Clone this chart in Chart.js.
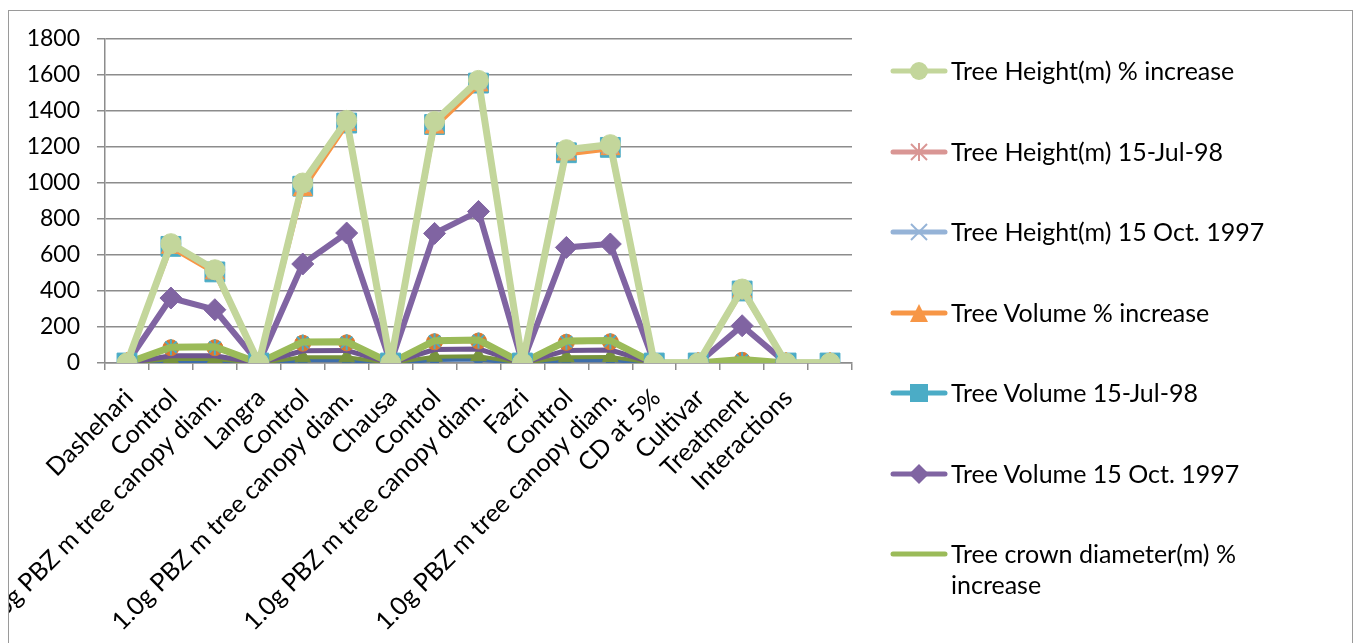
<!DOCTYPE html>
<html>
<head>
<meta charset="utf-8">
<script src="https://cdn.jsdelivr.net/npm/chart.js@4/dist/chart.umd.min.js"></script>
<style>
  html, body { margin: 0; padding: 0; background: #fff; }
  #wrap { position: relative; width: 1356px; height: 643px; overflow: hidden; background: #fff; }
  #chart { position: absolute; left: 0; top: 0; }
  #edge { position: absolute; left: 0; top: 0; width: 8px; height: 643px; background: #fff; }
  #frame { position: absolute; left: 8px; top: 10px; width: 1345px; height: 700px; border: 1px solid #9a9a9a; box-sizing: border-box; pointer-events: none; }
  .item { position: absolute; left: 889px; width: 60px; height: 24px; }
  .item svg { position: absolute; left: 0; top: 0; }
  .item .txt { position: absolute; left: 62px; top: -4px; font-family: Lato, sans-serif; font-size: 25px; line-height: 31px; color: #000; white-space: nowrap; }
</style>
</head>
<body>
<div id="wrap">
  <canvas id="chart" width="1356" height="643"></canvas>
  <div id="edge"></div>
  <div id="frame"></div>
  <div id="legend"></div>
</div>
<script>
// Categories along the x axis (last slot has no label)
const categories = [
  'Dashehari', 'Control', '1.0g PBZ m tree canopy diam.',
  'Langra', 'Control', '1.0g PBZ m tree canopy diam.',
  'Chausa', 'Control', '1.0g PBZ m tree canopy diam.',
  'Fazri', 'Control', '1.0g PBZ m tree canopy diam.',
  'CD at 5%', 'Cultivar', 'Treatment', 'Interactions', ''
];

// Value axis tick labels
const yTickValues = [0, 200, 400, 600, 800, 1000, 1200, 1400, 1600, 1800];

// Series values, one entry per category
const heightPctIncrease = [0, 663, 518, 0, 1000, 1348, 0, 1342, 1570, 0, 1185, 1213, 0, 0, 411, 0, 0];
const height15Jul98     = [0, 660, 515, 0, 996, 1344, 0, 1338, 1566, 0, 1181, 1209, 0, 0, 408, 0, 0];
const height15Oct97     = [0, 656, 511, 0, 991, 1339, 0, 1333, 1561, 0, 1176, 1204, 0, 0, 405, 0, 0];
const volumePctIncrease = [0, 640, 498, 0, 960, 1322, 0, 1308, 1542, 0, 1158, 1188, 0, 0, 396, 0, 0];
const volume15Jul98     = [0, 648, 506, 0, 982, 1333, 0, 1325, 1555, 0, 1168, 1198, 0, 0, 400, 0, 0];
const volume15Oct97     = [0, 361, 296, 0, 550, 722, 0, 720, 842, 0, 642, 661, 0, 0, 207, 0, 0];
const crownPctIncrease  = [0, 88, 90, 0, 117, 118, 0, 124, 128, 0, 122, 125, 0, 0, 20, 0, 0];
const series8           = [0, 88, 88, 0, 114, 115, 0, 121, 125, 0, 118, 121, 0, 0, 16, 0, 0];
const series9           = [0, 85, 85, 0, 110, 112, 0, 118, 122, 0, 115, 118, 0, 0, 15, 0, 0];
const series10          = [0, 40, 40, 0, 68, 70, 0, 75, 78, 0, 70, 72, 0, 0, 8, 0, 0];
const series11          = [0, 22, 22, 0, 32, 32, 0, 35, 38, 0, 32, 34, 0, 0, 6, 0, 0];
const series12          = [0, 12, 12, 0, 18, 18, 0, 20, 22, 0, 18, 20, 0, 0, 4, 0, 0];

// Series styling; `legend` marks the entries listed in the key
const seriesDefs = [
  { label: 'Tree Height(m) % increase', data: heightPctIncrease, color: '#C3D69B', width: 7, marker: 'circle', r: 10, legend: true },
  { label: 'Tree Height(m) 15-Jul-98', data: height15Jul98, color: '#D99694', width: 4, marker: 'star', r: 10, legend: true },
  { label: 'Tree Height(m) 15 Oct. 1997', data: height15Oct97, color: '#95B3D7', width: 4, marker: 'crossRot', r: 10, legend: true },
  { label: 'Tree Volume % increase', data: volumePctIncrease, color: '#F79646', width: 4, marker: 'triangle', r: 11, legend: true },
  { label: 'Tree Volume 15-Jul-98', data: volume15Jul98, color: '#4BACC6', width: 4, marker: 'rect', r: 14, legend: true },
  { label: 'Tree Volume 15 Oct. 1997', data: volume15Oct97, color: '#8064A2', width: 6, marker: 'rectRot', r: 11, legend: true },
  { label: ['Tree crown diameter(m) %', 'increase'], data: crownPctIncrease, color: '#9BBB59', width: 7, marker: false, r: 0, legend: true },
  { label: 'Series 8', data: series8, color: '#4BACC6', width: 0, marker: 'star', r: 8, legend: false },
  { label: 'Series 9', data: series9, color: '#DA792F', width: 4, marker: 'circle', r: 8, legend: false },
  { label: 'Series 10', data: series10, color: '#6E568F', width: 5, marker: false, r: 0, legend: false },
  { label: 'Series 11', data: series11, color: '#77933C', width: 4, marker: 'triangle', r: 9, legend: false },
  { label: 'Series 12', data: series12, color: '#3E6EAA', width: 5, marker: 'rectRot', r: 7, legend: false }
];

const datasets = seriesDefs.map((s, i) => ({
  label: Array.isArray(s.label) ? s.label.join(' ') : s.label,
  data: s.data,
  borderColor: s.color,
  backgroundColor: s.color,
  borderWidth: s.width,
  showLine: s.width > 0,
  pointStyle: s.marker,
  pointRadius: s.marker ? s.r : 0,
  pointBorderWidth: (s.marker === 'star' || s.marker === 'crossRot') ? 2 : 1,
  pointBorderColor: s.color,
  pointBackgroundColor: s.color,
  tension: 0,
  order: i
}));

Chart.defaults.font.family = 'Lato, sans-serif';

new Chart(document.getElementById('chart'), {
  type: 'line',
  data: { labels: categories, datasets },
  options: {
    responsive: false,
    animation: false,
    devicePixelRatio: 1,
    layout: { padding: { left: 0, top: 39, right: 504, bottom: 0 } },
    plugins: { legend: { display: false }, tooltip: { enabled: false } },
    scales: {
      x: {
        type: 'category',
        offset: true,
        grid: { offset: true, drawOnChartArea: false, drawTicks: true, tickLength: 7, color: '#8c8c8c', lineWidth: 1.5 },
        border: { color: '#8c8c8c', width: 1.5 },
        ticks: { autoSkip: false, minRotation: 45, maxRotation: 45, padding: 13, labelOffset: 2, color: '#000', font: { size: 25 } },
        afterFit(scale) { scale.height = 280; }
      },
      y: {
        min: 0,
        max: 1800,
        afterBuildTicks(scale) { scale.ticks = yTickValues.map(v => ({ value: v })); },
        grid: { color: '#8c8c8c', lineWidth: 1.5, tickLength: 8 },
        border: { color: '#8c8c8c', width: 1.5 },
        ticks: { padding: 17, color: '#000', font: { size: 23 }, callback: v => String(v) },
        afterFit(scale) { scale.width = 105; }
      }
    }
  }
});

// Key on the right: line sample with marker, then the series name
function markerSvg(s) {
  const c = s.color, cx = 30, cy = 12;
  switch (s.marker) {
    case 'circle': return `<circle cx="${cx}" cy="${cy}" r="9" fill="${c}"/>`;
    case 'star': return `<g stroke="${c}" stroke-width="2"><line x1="${cx}" y1="${cy-9}" x2="${cx}" y2="${cy+9}"/><line x1="${cx-8}" y1="${cy-8}" x2="${cx+8}" y2="${cy+8}"/><line x1="${cx-8}" y1="${cy+8}" x2="${cx+8}" y2="${cy-8}"/><line x1="${cx-8}" y1="${cy}" x2="${cx+8}" y2="${cy}"/></g>`;
    case 'crossRot': return `<g stroke="${c}" stroke-width="2"><line x1="${cx-8}" y1="${cy-8}" x2="${cx+8}" y2="${cy+8}"/><line x1="${cx-8}" y1="${cy+8}" x2="${cx+8}" y2="${cy-8}"/></g>`;
    case 'triangle': return `<polygon points="${cx},${cy-9} ${cx+9},${cy+9} ${cx-9},${cy+9}" fill="${c}"/>`;
    case 'rect': return `<rect x="${cx-9}" y="${cy-9}" width="18" height="18" fill="${c}"/>`;
    case 'rectRot': return `<polygon points="${cx},${cy-10} ${cx+10},${cy} ${cx},${cy+10} ${cx-10},${cy}" fill="${c}"/>`;
    default: return '';
  }
}
const legendEl = document.getElementById('legend');
const legendTop = [71, 151.5, 232, 312.5, 393, 473.5, 554];
seriesDefs.filter(s => s.legend).forEach((s, i) => {
  const item = document.createElement('div');
  item.className = 'item';
  item.style.top = (legendTop[i] - 12) + 'px';
  const text = Array.isArray(s.label) ? s.label.join('<br>') : s.label;
  item.innerHTML = `<svg width="60" height="24"><line x1="4" y1="12" x2="56" y2="12" stroke="${s.color}" stroke-width="5" stroke-linecap="round"/>${markerSvg(s)}</svg><div class="txt">${text}</div>`;
  legendEl.appendChild(item);
});
</script>
</body>
</html>
